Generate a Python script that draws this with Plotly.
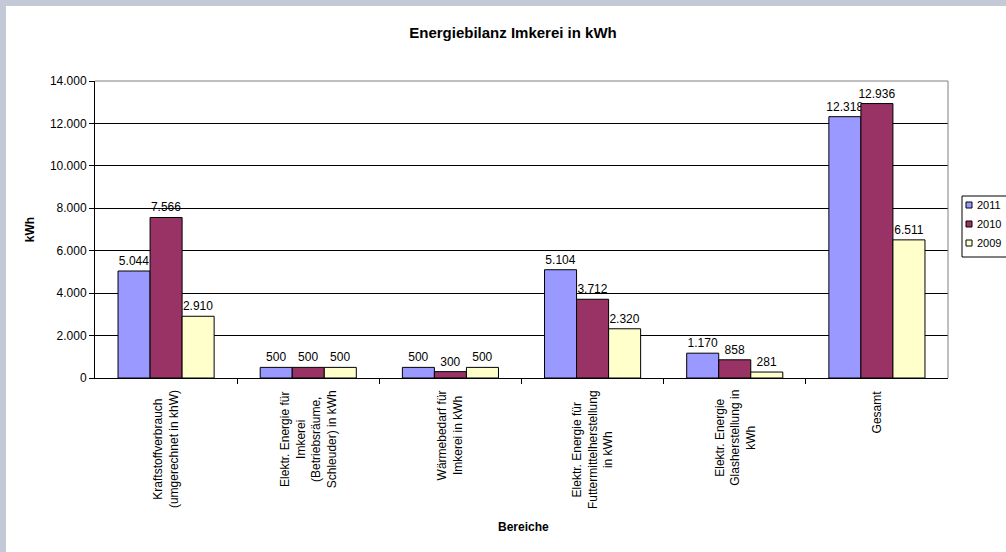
import plotly.graph_objects as go

# Categories and yearly values (kWh)
categories = [
    "Kraftstoffverbrauch<br>(umgerechnet in khW)",
    "Elektr. Energie für<br>Imkerei<br>(Betriebsräume,<br>Schleuder) in kWh",
    "Wärmebedarf für<br>Imkerei in kWh",
    "Elektr. Energie für<br>Futtermittelherstellung<br>in kWh",
    "Elektr. Energie<br>Glasherstellung in<br>kWh",
    "Gesamt",
]
years = ["2011", "2010", "2009"]
values_2011 = [5044, 500, 500, 5104, 1170, 12318]
values_2010 = [7566, 500, 300, 3712, 858, 12936]
values_2009 = [2910, 500, 500, 2320, 281, 6511]
y_ticks = [0, 2000, 4000, 6000, 8000, 10000, 12000, 14000]

series = [values_2011, values_2010, values_2009]
colors = ["#9999ff", "#993366", "#ffffcc"]

FONT = "Arial, Liberation Sans, sans-serif"
W, H = 1006, 552
# plot area in pixels
L, R, T, B = 95, 948, 81, 378


def px_x(px):
    return (px - L) / (R - L)


def px_y(py):
    return (B - py) / (B - T)


fig = go.Figure()
idx = list(range(len(categories)))
for name, vals, col in zip(years, series, colors):
    fig.add_trace(go.Bar(
        x=idx, y=vals, name=name,
        marker=dict(color=col, line=dict(color="#000000", width=1)),
        text=vals, texttemplate="%{y:,.0f}", textposition="outside",
        textfont=dict(family=FONT, size=12, color="#000000"),
        constraintext="none", cliponaxis=False, showlegend=False,
    ))

shapes = [
    # page background and white chart sheet
    dict(type="rect", xref="paper", yref="paper", layer="below",
         x0=px_x(6), x1=px_x(W + 5), y0=px_y(H + 5), y1=px_y(6),
         fillcolor="#ffffff", line=dict(width=0)),
    # grey top/right border of the plot area
    dict(type="path", xref="paper", yref="paper", layer="above",
         path="M 0,1 L 1,1 L 1,0", line=dict(color="#808080", width=1)),
    # legend frame
    dict(type="rect", xref="paper", yref="paper",
         x0=px_x(962), x1=px_x(W + 10), y0=px_y(257), y1=px_y(196),
         fillcolor="#ffffff", line=dict(color="#000000", width=1)),
]

annotations = []
# rotated category labels below the axis
for i, cat in enumerate(categories):
    annotations.append(dict(
        x=i, y=0, xref="x", yref="paper", text=cat, showarrow=False,
        textangle=-90, xanchor="center", yanchor="top", yshift=-10,
        align="center", font=dict(family=FONT, size=12, color="#000000"),
    ))
# x axis title
annotations.append(dict(
    x=px_x(523), y=px_y(527), xref="paper", yref="paper", text="<b>Bereiche</b>",
    showarrow=False, xanchor="center", yanchor="middle",
    font=dict(family=FONT, size=12, color="#000000"),
))
# legend entries
for k, (name, col) in enumerate(zip(years, colors)):
    cy = 205 + k * 19
    shapes.append(dict(
        type="rect", xref="paper", yref="paper",
        x0=px_x(966), x1=px_x(972), y0=px_y(cy + 3), y1=px_y(cy - 3),
        fillcolor=col, line=dict(color="#000000", width=1),
    ))
    annotations.append(dict(
        x=px_x(975), y=px_y(cy), xref="paper", yref="paper", text=name,
        showarrow=False, xanchor="left", yanchor="middle",
        font=dict(family=FONT, size=11, color="#000000"),
    ))

fig.update_layout(
    width=W, height=H,
    margin=dict(l=L, r=W - R, t=T, b=H - B, autoexpand=False),
    paper_bgcolor="#c3c9d7",
    plot_bgcolor="#ffffff",
    separators=",.",
    barmode="group", bargap=0.324, bargroupgap=0,
    title=dict(text="<b>Energiebilanz Imkerei in kWh</b>", x=513 / W, xref="container",
               xanchor="center", y=1 - 33 / H, yanchor="middle",
               font=dict(family=FONT, size=15, color="#000000")),
    font=dict(family=FONT, size=12, color="#000000"),
    xaxis=dict(
        type="linear", range=[-0.5, len(categories) - 0.5],
        tickvals=[i - 0.5 for i in range(1, len(categories))],
        showticklabels=False, ticks="outside", ticklen=5, tickcolor="#000000",
        showline=True, linecolor="#000000", linewidth=1, showgrid=False, zeroline=False,
    ),
    yaxis=dict(
        range=[0, 14000], tickvals=y_ticks, tickformat=",.0f",
        ticks="outside", ticklen=5, tickcolor="#000000",
        showline=True, linecolor="#000000", linewidth=1,
        showgrid=True, gridcolor="#000000", gridwidth=1, zeroline=False,
        tickfont=dict(family=FONT, size=12, color="#000000"),
        title=dict(text="<b>kWh</b>", standoff=12,
                   font=dict(family=FONT, size=12, color="#000000")),
    ),
    shapes=shapes,
    annotations=annotations,
)

fig.write_html("out.html")
